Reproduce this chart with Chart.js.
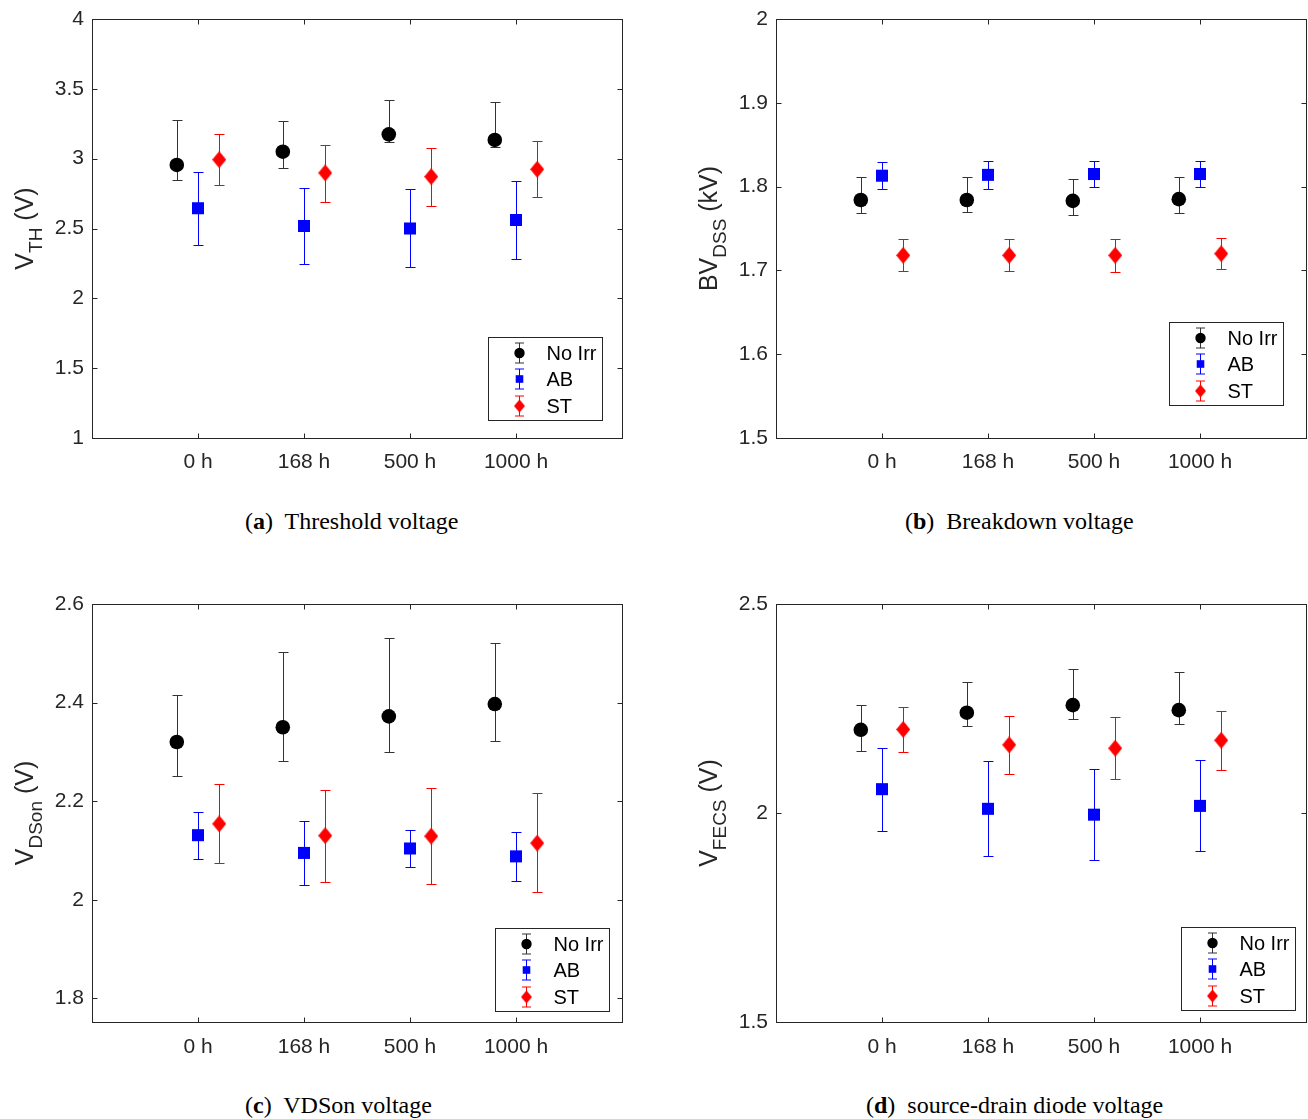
<!DOCTYPE html>
<html>
<head>
<meta charset="utf-8">
<script src="https://cdn.jsdelivr.net/npm/chart.js@4.4.1/dist/chart.umd.min.js"></script>
<style>
  body { margin: 0; background: #fff; }
  #page { position: relative; width: 1308px; height: 1119px; overflow: hidden; background: #fff; }
  canvas { position: absolute; }
  .cap { position: absolute; font-family: "Liberation Serif", "Times New Roman", serif; font-size: 24px; line-height: 30px; color: #000; white-space: nowrap; }
</style>
</head>
<body>
<div id="page">
  <canvas id="chartA" width="654" height="480" style="left:0;top:0"></canvas>
  <canvas id="chartB" width="654" height="480" style="left:654px;top:0"></canvas>
  <canvas id="chartC" width="654" height="500" style="left:0;top:560px"></canvas>
  <canvas id="chartD" width="654" height="500" style="left:654px;top:560px"></canvas>
  <div class="cap" style="left:245px;top:506px">(<b>a</b>)&nbsp; Threshold voltage</div>
  <div class="cap" style="left:905px;top:506px">(<b>b</b>)&nbsp; Breakdown voltage</div>
  <div class="cap" style="left:245px;top:1090px">(<b>c</b>)&nbsp; VDSon voltage</div>
  <div class="cap" style="left:866px;top:1090px">(<b>d</b>)&nbsp; source-drain diode voltage</div>
</div>
<script>
// categories i series
const hours = ['0 h', '168 h', '500 h', '1000 h'];
const hourPos = [1, 2, 3, 4];
const seriesNames = ['No Irr', 'AB', 'ST'];
const seriesShift = [-0.2, 0, 0.2];

// (a) tensio llindar
const vthNoIrr = [2.955, 3.05, 3.174, 3.134];
const vthNoIrrLow = [2.845, 2.931, 3.122, 3.086];
const vthNoIrrHigh = [3.275, 3.268, 3.423, 3.406];
const vthAB = [2.645, 2.518, 2.50, 2.561];
const vthABLow = [2.38, 2.246, 2.222, 2.28];
const vthABHigh = [2.905, 2.79, 2.783, 2.843];
const vthST = [2.993, 2.898, 2.871, 2.924];
const vthSTLow = [2.814, 2.692, 2.659, 2.726];
const vthSTHigh = [3.179, 3.10, 3.079, 3.124];
const vthTicks = [1, 1.5, 2, 2.5, 3, 3.5, 4];
const vthTickLabels = ['1', '1.5', '2', '2.5', '3', '3.5', '4'];

// (b) tensio de ruptura
const bvNoIrr = [1.784, 1.784, 1.783, 1.785];
const bvNoIrrLow = [1.768, 1.770, 1.766, 1.769];
const bvNoIrrHigh = [1.811, 1.811, 1.809, 1.812];
const bvAB = [1.813, 1.814, 1.815, 1.815];
const bvABLow = [1.797, 1.797, 1.799, 1.799];
const bvABHigh = [1.829, 1.830, 1.831, 1.830];
const bvST = [1.718, 1.718, 1.718, 1.720];
const bvSTLow = [1.699, 1.699, 1.698, 1.702];
const bvSTHigh = [1.737, 1.737, 1.738, 1.739];
const bvTicks = [1.5, 1.6, 1.7, 1.8, 1.9, 2];
const bvTickLabels = ['1.5', '1.6', '1.7', '1.8', '1.9', '2'];

// (c) VDSon
const vdsNoIrr = [2.320, 2.350, 2.372, 2.397];
const vdsNoIrrLow = [2.251, 2.282, 2.299, 2.322];
const vdsNoIrrHigh = [2.416, 2.503, 2.532, 2.521];
const vdsAB = [2.131, 2.095, 2.104, 2.088];
const vdsABLow = [2.082, 2.030, 2.067, 2.039];
const vdsABHigh = [2.179, 2.160, 2.142, 2.137];
const vdsST = [2.154, 2.130, 2.129, 2.115];
const vdsSTLow = [2.075, 2.036, 2.031, 2.015];
const vdsSTHigh = [2.235, 2.222, 2.227, 2.216];
const vdsTicks = [1.8, 2, 2.2, 2.4, 2.6];
const vdsTickLabels = ['1.8', '2', '2.2', '2.4', '2.6'];

// (d) diode font-drenador
const vfNoIrr = [2.199, 2.240, 2.258, 2.246];
const vfNoIrrLow = [2.148, 2.208, 2.225, 2.214];
const vfNoIrrHigh = [2.259, 2.314, 2.344, 2.337];
const vfAB = [2.057, 2.010, 1.996, 2.017];
const vfABLow = [1.958, 1.896, 1.888, 1.909];
const vfABHigh = [2.156, 2.125, 2.105, 2.127];
const vfST = [2.200, 2.163, 2.155, 2.174];
const vfSTLow = [2.147, 2.094, 2.081, 2.102];
const vfSTHigh = [2.253, 2.232, 2.229, 2.244];
const vfTicks = [1.5, 2, 2.5];
const vfTickLabels = ['1.5', '2', '2.5'];

const sansFont = '"Liberation Sans", Arial, Helvetica, sans-serif';
const axisColor = '#262626';
Chart.defaults.font.family = sansFont;

// el rombe de matlab es mes alt que ample, el fem en un canvas petit
const makeDiamond = (w, h, color) => {
    const c = document.createElement('canvas');
    c.width = w;
    c.height = h;
    const g = c.getContext('2d');
    g.fillStyle = color;
    g.beginPath();
    g.moveTo(w / 2, 0);
    g.lineTo(w, h / 2);
    g.lineTo(w / 2, h);
    g.lineTo(0, h / 2);
    g.closePath();
    g.fill();
    return c;
};
const diamondBig = makeDiamond(14, 17, '#ff0000');
const diamondSmall = makeDiamond(11, 13, '#ff0000');

const seriesStyle = [
    { color: '#000000', bar: '#333333', pointStyle: 'circle', radius: 7.3 },
    { color: '#0000ff', bar: '#0000ff', pointStyle: 'rect', radius: 8.5 },
    { color: '#ff0000', bar: '#ff0000', pointStyle: diamondBig, radius: 8 }
];

// caixa, marques interiors, barres d'error, titol i llegenda
const panelDecor = {
    id: 'panelDecor',
    beforeDatasetsDraw(chart) {
        const { ctx, chartArea: a, scales } = chart;
        const L = Math.round(a.left) + 0.5, R = Math.round(a.right) + 0.5;
        const T = Math.round(a.top) + 0.5, B = Math.round(a.bottom) + 0.5;
        ctx.save();
        ctx.strokeStyle = axisColor;
        ctx.lineWidth = 1;
        ctx.strokeRect(L, T, R - L, B - T);
        ctx.beginPath();
        scales.x.ticks.forEach((t) => {
            const x = Math.round(scales.x.getPixelForValue(t.value)) + 0.5;
            ctx.moveTo(x, B); ctx.lineTo(x, B - 5);
            ctx.moveTo(x, T); ctx.lineTo(x, T + 5);
        });
        scales.y.ticks.forEach((t) => {
            const y = Math.round(scales.y.getPixelForValue(t.value)) + 0.5;
            ctx.moveTo(L, y); ctx.lineTo(L + 5, y);
            ctx.moveTo(R, y); ctx.lineTo(R - 5, y);
        });
        ctx.stroke();

        // barres d'error
        chart.data.datasets.forEach((ds, i) => {
            const meta = chart.getDatasetMeta(i);
            ctx.strokeStyle = ds.barColor;
            ctx.beginPath();
            meta.data.forEach((pt, j) => {
                const x = Math.round(pt.x) + 0.5;
                const yHi = Math.round(scales.y.getPixelForValue(ds.errHigh[j])) + 0.5;
                const yLo = Math.round(scales.y.getPixelForValue(ds.errLow[j])) + 0.5;
                ctx.moveTo(x, yHi); ctx.lineTo(x, yLo);
                ctx.moveTo(x - 5, yHi); ctx.lineTo(x + 5, yHi);
                ctx.moveTo(x - 5, yLo); ctx.lineTo(x + 5, yLo);
            });
            ctx.stroke();
        });
        ctx.restore();
    },
    afterDraw(chart, args, opts) {
        const { ctx, chartArea: a } = chart;
        ctx.save();

        // titol de l'eix y amb subindex
        const big = '25px ' + sansFont, small = '19px ' + sansFont;
        ctx.fillStyle = axisColor;
        ctx.textBaseline = 'alphabetic';
        ctx.font = big;
        const w1 = ctx.measureText(opts.titleMain).width;
        const w3 = ctx.measureText(opts.titleTail).width;
        ctx.font = small;
        const w2 = ctx.measureText(opts.titleSub).width;
        const total = w1 + w2 + w3;
        ctx.translate(a.left - 59, (a.top + a.bottom) / 2);
        ctx.rotate(-Math.PI / 2);
        let cx = -total / 2;
        ctx.font = big;
        ctx.fillText(opts.titleMain, cx, 0);
        cx += w1;
        ctx.font = small;
        ctx.fillText(opts.titleSub, cx, 9);
        cx += w2;
        ctx.font = big;
        ctx.fillText(opts.titleTail, cx, 0);
        ctx.setTransform(1, 0, 0, 1, 0, 0);

        // llegenda
        const w = 114, h = 83;
        const x0 = Math.round(a.right - opts.legendRight - w) + 0.5;
        const y0 = Math.round(a.bottom - opts.legendBottom - h) + 0.5;
        ctx.fillStyle = '#fff';
        ctx.fillRect(x0, y0, w, h);
        ctx.strokeStyle = axisColor;
        ctx.lineWidth = 1;
        ctx.strokeRect(x0, y0, w, h);
        chart.data.datasets.forEach((ds, i) => {
            const cy = Math.round(y0 + 15 + i * 26.7);
            const mx = Math.round(x0 + 30) + 0.5;
            ctx.strokeStyle = ds.barColor;
            ctx.beginPath();
            ctx.moveTo(mx, cy - 10); ctx.lineTo(mx, cy + 10);
            ctx.moveTo(mx - 4.5, cy - 10); ctx.lineTo(mx + 4.5, cy - 10);
            ctx.moveTo(mx - 4.5, cy + 10); ctx.lineTo(mx + 4.5, cy + 10);
            ctx.stroke();
            ctx.fillStyle = ds.pointBackgroundColor;
            if (i === 0) {
                ctx.beginPath();
                ctx.arc(mx, cy, 5.2, 0, Math.PI * 2);
                ctx.fill();
            } else if (i === 1) {
                ctx.fillRect(mx - 3.8, cy - 3.8, 7.6, 7.6);
            } else {
                ctx.drawImage(diamondSmall, mx - 5.5, cy - 6.5);
            }
            ctx.fillStyle = '#000';
            ctx.font = '20px ' + sansFont;
            ctx.textBaseline = 'middle';
            ctx.fillText(ds.label, x0 + 58, cy + 1);
        });
        ctx.restore();
    }
};

const makeDatasets = (means, lows, highs) => seriesNames.map((name, s) => ({
    label: name,
    data: means[s].map((v, j) => ({ x: hourPos[j] + seriesShift[s], y: v })),
    errLow: lows[s],
    errHigh: highs[s],
    barColor: seriesStyle[s].bar,
    pointStyle: seriesStyle[s].pointStyle,
    pointRadius: seriesStyle[s].radius,
    pointBackgroundColor: seriesStyle[s].color,
    pointBorderWidth: 0,
    showLine: false
}));

const makeChart = (id, cfg) => {
    const ctx = document.getElementById(id).getContext('2d');
    return new Chart(ctx, {
        type: 'scatter',
        data: { datasets: makeDatasets(cfg.means, cfg.lows, cfg.highs) },
        plugins: [panelDecor],
        options: {
            responsive: false,
            animation: false,
            events: [],
            layout: {
                autoPadding: false,
                padding: { top: cfg.padTop, right: cfg.padRight, left: 0, bottom: 0 }
            },
            plugins: {
                legend: { display: false },
                tooltip: { enabled: false },
                panelDecor: cfg.decor
            },
            scales: {
                x: {
                    type: 'linear',
                    min: 0,
                    max: 5,
                    grid: { display: false, drawTicks: false },
                    border: { display: false },
                    afterBuildTicks: (s) => { s.ticks = hourPos.map((v) => ({ value: v })); },
                    afterFit: (s) => {
                        s.height = cfg.xHeight;
                        s.paddingLeft = 0;
                        s.paddingRight = 0;
                    },
                    ticks: {
                        autoSkip: false,
                        maxRotation: 0,
                        padding: cfg.xPad,
                        color: axisColor,
                        font: { size: 21 },
                        callback: (v, i) => hours[i]
                    }
                },
                y: {
                    min: cfg.yMin,
                    max: cfg.yMax,
                    grid: { display: false, drawTicks: false },
                    border: { display: false },
                    afterBuildTicks: (s) => { s.ticks = cfg.yTicks.map((v) => ({ value: v })); },
                    afterFit: (s) => {
                        s.width = cfg.yWidth;
                        s.paddingTop = 0;
                        s.paddingBottom = 0;
                    },
                    ticks: {
                        autoSkip: false,
                        padding: 8,
                        color: axisColor,
                        font: { size: 21 },
                        callback: (v, i) => cfg.yTickLabels[i]
                    }
                }
            }
        }
    });
};

makeChart('chartA', {
    means: [vthNoIrr, vthAB, vthST],
    lows: [vthNoIrrLow, vthABLow, vthSTLow],
    highs: [vthNoIrrHigh, vthABHigh, vthSTHigh],
    yMin: 1, yMax: 4, yTicks: vthTicks, yTickLabels: vthTickLabels,
    yWidth: 92, xHeight: 42, xPad: 12, padTop: 19, padRight: 32,
    decor: { titleMain: 'V', titleSub: 'TH', titleTail: ' (V)', legendRight: 20, legendBottom: 18 }
});

makeChart('chartB', {
    means: [bvNoIrr, bvAB, bvST],
    lows: [bvNoIrrLow, bvABLow, bvSTLow],
    highs: [bvNoIrrHigh, bvABHigh, bvSTHigh],
    yMin: 1.5, yMax: 2, yTicks: bvTicks, yTickLabels: bvTickLabels,
    yWidth: 122, xHeight: 42, xPad: 12, padTop: 19, padRight: 2,
    decor: { titleMain: 'BV', titleSub: 'DSS', titleTail: ' (kV)', legendRight: 23, legendBottom: 33 }
});

makeChart('chartC', {
    means: [vdsNoIrr, vdsAB, vdsST],
    lows: [vdsNoIrrLow, vdsABLow, vdsSTLow],
    highs: [vdsNoIrrHigh, vdsABHigh, vdsSTHigh],
    yMin: 1.752, yMax: 2.6, yTicks: vdsTicks, yTickLabels: vdsTickLabels,
    yWidth: 92, xHeight: 38, xPad: 13, padTop: 44, padRight: 32,
    decor: { titleMain: 'V', titleSub: 'DSon', titleTail: ' (V)', legendRight: 13, legendBottom: 11 }
});

makeChart('chartD', {
    means: [vfNoIrr, vfAB, vfST],
    lows: [vfNoIrrLow, vfABLow, vfSTLow],
    highs: [vfNoIrrHigh, vfABHigh, vfSTHigh],
    yMin: 1.5, yMax: 2.5, yTicks: vfTicks, yTickLabels: vfTickLabels,
    yWidth: 122, xHeight: 38, xPad: 13, padTop: 44, padRight: 2,
    decor: { titleMain: 'V', titleSub: 'FECS', titleTail: ' (V)', legendRight: 11, legendBottom: 12 }
});
</script>
</body>
</html>
